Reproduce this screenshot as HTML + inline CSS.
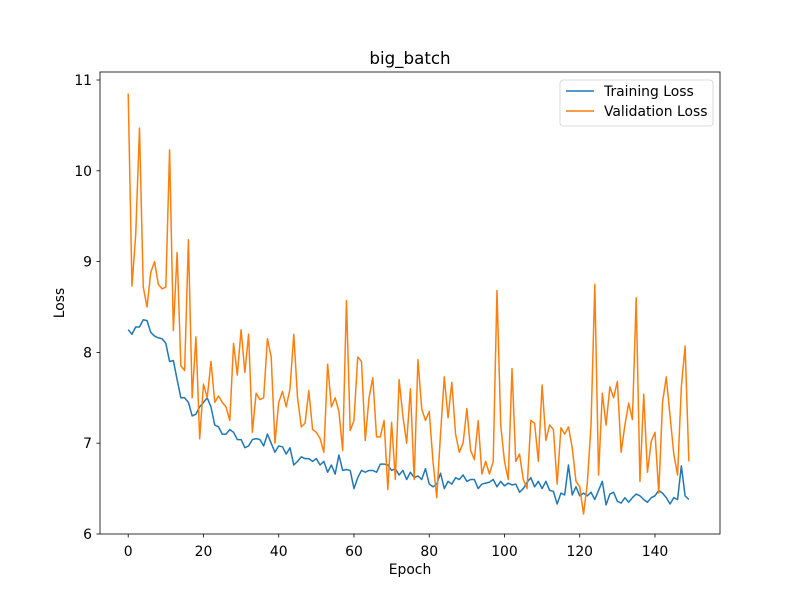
<!DOCTYPE html>
<html><head><meta charset="utf-8"><style>
body{margin:0;background:#fff;}
svg text{font-family:"DejaVu Sans","Liberation Sans",sans-serif;fill:#000;}
</style></head><body>
<svg id="chart" width="800" height="600" xmlns="http://www.w3.org/2000/svg">
<rect width="800" height="600" fill="#fff"/>
<text x="410" y="64" font-size="16.7" text-anchor="middle">big_batch</text>
<g id="axes"></g>
<g id="series"></g>
<rect x="100" y="72" width="620" height="462" fill="none" stroke="#000" stroke-width="0.8"/>
<text x="410" y="574" font-size="13.9" text-anchor="middle">Epoch</text>
<text x="0" y="0" font-size="13.9" text-anchor="middle" transform="translate(64,303) rotate(-90)">Loss</text>
<g>
<rect x="560" y="80" width="153" height="46" rx="3" fill="#fff" stroke="#ccc" stroke-width="0.8" opacity="0.9"/>
<line x1="566" y1="91" x2="594" y2="91" stroke="#1f77b4" stroke-width="1.5"/>
<text x="604" y="96" font-size="13.9">Training Loss</text>
<line x1="566" y1="111" x2="594" y2="111" stroke="#ff7f0e" stroke-width="1.5"/>
<text x="604" y="116" font-size="13.9">Validation Loss</text>
</g>
</svg>
<script>
const xTicks=[0,20,40,60,80,100,120,140];
const yTicks=[6,7,8,9,10,11];
const trainLoss=[8.25,8.2,8.28,8.28,8.36,8.35,8.22,8.18,8.16,8.15,8.1,7.9,7.91,7.7,7.5,7.5,7.45,7.3,7.32,7.4,7.45,7.5,7.4,7.2,7.18,7.1,7.1,7.15,7.12,7.04,7.04,6.95,6.97,7.04,7.05,7.04,6.97,7.1,7.0,6.9,6.97,6.96,6.88,6.95,6.76,6.8,6.85,6.83,6.83,6.8,6.83,6.76,6.8,6.68,6.76,6.66,6.87,6.7,6.71,6.7,6.5,6.62,6.7,6.68,6.7,6.7,6.68,6.77,6.77,6.76,6.7,6.72,6.65,6.7,6.6,6.68,6.62,6.64,6.6,6.72,6.55,6.52,6.55,6.67,6.5,6.58,6.55,6.62,6.6,6.65,6.58,6.6,6.6,6.5,6.55,6.56,6.57,6.6,6.52,6.58,6.53,6.56,6.54,6.55,6.46,6.5,6.57,6.62,6.52,6.58,6.5,6.58,6.48,6.47,6.33,6.45,6.43,6.76,6.43,6.52,6.42,6.45,6.42,6.46,6.38,6.48,6.58,6.32,6.44,6.46,6.36,6.34,6.4,6.35,6.4,6.44,6.42,6.38,6.35,6.4,6.42,6.48,6.45,6.4,6.33,6.4,6.38,6.75,6.42,6.38];
const valLoss=[10.85,8.73,9.3,10.47,8.72,8.5,8.88,9.0,8.75,8.7,8.72,10.23,8.24,9.1,7.85,7.8,9.24,7.5,8.17,7.05,7.65,7.5,7.9,7.45,7.52,7.45,7.4,7.25,8.1,7.75,8.25,7.78,8.2,7.12,7.55,7.48,7.5,8.15,7.95,7.0,7.45,7.57,7.4,7.6,8.2,7.5,7.18,7.22,7.58,7.15,7.12,7.05,6.9,7.87,7.4,7.5,7.35,6.92,8.57,7.14,7.25,7.95,7.9,7.03,7.5,7.72,7.07,7.07,7.25,6.49,7.23,6.6,7.7,7.3,7.0,7.6,6.6,7.92,7.38,7.25,7.35,6.8,6.4,7.1,7.73,7.28,7.67,7.1,6.9,7.0,7.38,6.92,6.82,7.25,6.66,6.8,6.66,6.8,8.68,7.2,6.8,6.6,7.82,6.8,6.88,6.6,6.5,7.25,7.22,6.8,7.64,7.03,7.2,7.15,6.55,7.17,7.1,7.18,6.95,6.58,6.52,6.22,6.55,7.2,8.75,6.65,7.55,7.2,7.62,7.5,7.68,6.9,7.2,7.44,7.26,8.6,6.58,7.54,6.68,7.02,7.12,6.45,7.45,7.73,7.3,6.88,6.65,7.62,8.07,6.8];
const NS="http://www.w3.org/2000/svg";
const xs=v=>128.2+v*(655-128.2)/140;
const ys=v=>534-(v-6)*(534-80)/5;
const axes=document.getElementById('axes');
function mk(tag,attrs,parent){const e=document.createElementNS(NS,tag);for(const k in attrs)e.setAttribute(k,attrs[k]);parent.appendChild(e);return e;}
xTicks.forEach(t=>{
  const l=mk('line',{x1:xs(t),x2:xs(t),y1:534,y2:537.5,stroke:'#000','stroke-width':0.8},axes);
  
  
  const tx=mk('text',{x:xs(t),y:556,'font-size':13.9,'text-anchor':'middle'},axes);
  tx.textContent=t;
  
  
});
yTicks.forEach(t=>{
  const l=mk('line',{x1:96.5,x2:100,y1:ys(t),y2:ys(t),stroke:'#000','stroke-width':0.8},axes);
  
  
  const tx=mk('text',{x:92,y:ys(t)+5,'font-size':13.9,'text-anchor':'end'},axes);
  tx.textContent=t;
  
  
});
const series=document.getElementById('series');
function line(arr,color,name){
  const d=arr.map((v,i)=>(i?'L':'M')+xs(i).toFixed(2)+','+ys(v).toFixed(2)).join('');
  const p=mk('path',{d:d,fill:'none',stroke:color,'stroke-width':1.5,'stroke-linejoin':'round'},series);
  
  
}
line(trainLoss,'#1f77b4','training-loss-line');
line(valLoss,'#ff7f0e','validation-loss-line');
</script>
</body></html>
